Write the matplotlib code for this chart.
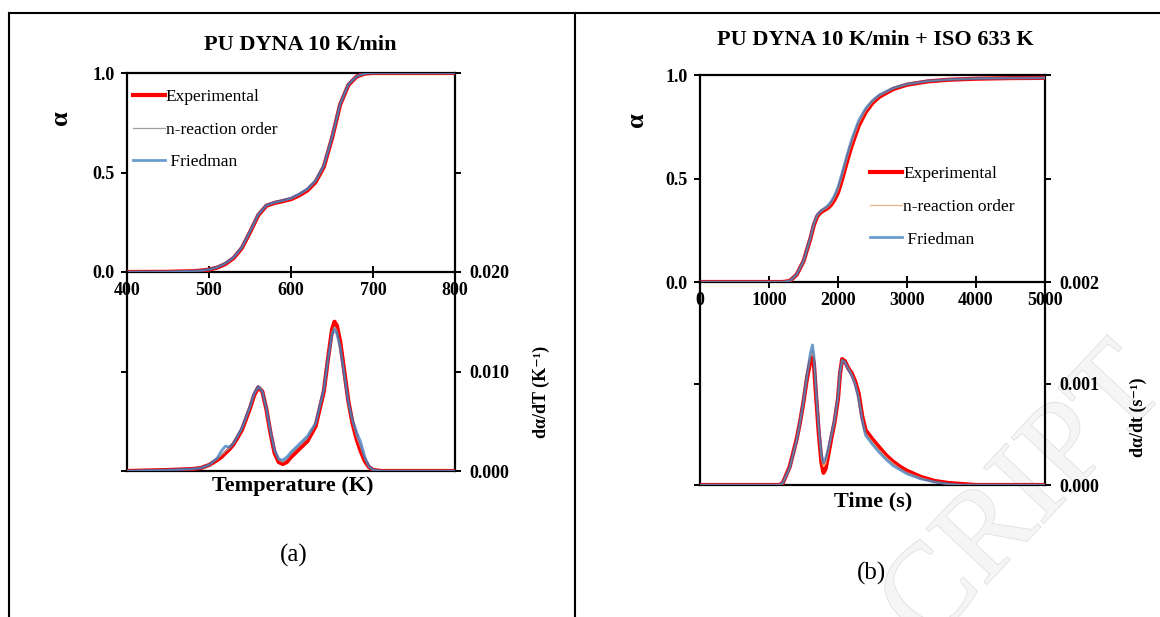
import matplotlib
matplotlib.use("Agg")
import matplotlib.pyplot as plt
import matplotlib.patheffects as pe
from matplotlib.lines import Line2D
from matplotlib.ticker import FormatStrFormatter

plt.rcParams.update({
    "font.family": ["Liberation Serif", "DejaVu Serif"],
    "font.weight": "bold",
    "axes.linewidth": 1.6,
    "xtick.major.width": 1.4,
    "ytick.major.width": 1.4,
    "xtick.labelsize": 13,
    "ytick.labelsize": 13,
})

W, H = 1160, 617
RED = "#ff0000"
BLUE = "#2e72b8"

# ---------- (a) PU DYNA 10 K/min ----------
temp_a = [400, 450, 480, 490, 500, 510, 520, 530, 540, 550, 560, 570, 580, 590,
          600, 610, 620, 630, 640, 650, 660, 670, 680, 690, 700, 750, 800]
alpha_exp_a = [0, 0.001, 0.004, 0.007, 0.012, 0.022, 0.040, 0.070, 0.120, 0.200,
               0.285, 0.333, 0.347, 0.356, 0.366, 0.385, 0.410, 0.452, 0.528,
               0.672, 0.842, 0.940, 0.982, 0.997, 1.0, 1.0, 1.0]
alpha_nro_a = [0, 0.001, 0.004, 0.007, 0.012, 0.023, 0.042, 0.072, 0.122, 0.202,
               0.287, 0.334, 0.348, 0.357, 0.368, 0.388, 0.414, 0.456, 0.532,
               0.676, 0.845, 0.942, 0.983, 0.997, 1.0, 1.0, 1.0]
alpha_fri_a = [0, 0.001, 0.004, 0.007, 0.013, 0.024, 0.044, 0.074, 0.124, 0.204,
               0.289, 0.336, 0.350, 0.360, 0.371, 0.392, 0.418, 0.460, 0.535,
               0.678, 0.846, 0.943, 0.983, 0.998, 1.0, 1.0, 1.0]

temp_d_a = [400, 450, 480, 490, 500, 510, 515, 520, 525, 530, 540, 550, 555, 560,
            565, 570, 575, 580, 585, 590, 595, 600, 610, 620, 630, 640, 645, 650,
            653, 656, 660, 665, 670, 675, 680, 685, 690, 695, 700, 710, 750, 800]
dadT_exp_a = [0, 0.0001, 0.0002, 0.0003, 0.0006, 0.0011, 0.0014, 0.0018, 0.0022,
              0.0027, 0.0041, 0.0063, 0.0076, 0.0084, 0.0080, 0.0062, 0.0038,
              0.0018, 0.0009, 0.0007, 0.0009, 0.0014, 0.0022, 0.0030, 0.0045,
              0.0080, 0.0112, 0.0142, 0.0150, 0.0146, 0.0130, 0.0100, 0.0070,
              0.0048, 0.0032, 0.0020, 0.0010, 0.0004, 0.0001, 0, 0, 0]
dadT_nro_a = [0, 0.0001, 0.0002, 0.0003, 0.0006, 0.0012, 0.0016, 0.0020, 0.0023,
              0.0028, 0.0042, 0.0064, 0.0077, 0.0084, 0.0080, 0.0062, 0.0039,
              0.0020, 0.0011, 0.0009, 0.0012, 0.0017, 0.0025, 0.0033, 0.0047,
              0.0081, 0.0112, 0.0139, 0.0145, 0.0141, 0.0126, 0.0098, 0.0069,
              0.0049, 0.0035, 0.0024, 0.0012, 0.0004, 0.0001, 0, 0, 0]
dadT_fri_a = [0, 0.0001, 0.0002, 0.0003, 0.0006, 0.0013, 0.0020, 0.0025, 0.0024,
              0.0028, 0.0043, 0.0065, 0.0078, 0.0085, 0.0080, 0.0063, 0.0040,
              0.0021, 0.0012, 0.0011, 0.0014, 0.0019, 0.0027, 0.0035, 0.0048,
              0.0082, 0.0112, 0.0137, 0.0142, 0.0138, 0.0124, 0.0097, 0.0069,
              0.0051, 0.0039, 0.0029, 0.0014, 0.0005, 0.0001, 0, 0, 0]

# ---------- (b) PU DYNA 10 K/min + ISO 633 K ----------
time_a_b = [0, 1000, 1200, 1300, 1400, 1500, 1600, 1650, 1700, 1750, 1800, 1850,
            1900, 1950, 2000, 2050, 2100, 2150, 2200, 2300, 2400, 2500, 2600,
            2800, 3000, 3300, 3600, 4000, 4500, 5000]
alpha_exp_b = [0, 0, 0, 0.005, 0.035, 0.10, 0.21, 0.275, 0.318, 0.337, 0.347,
               0.357, 0.373, 0.398, 0.432, 0.485, 0.545, 0.605, 0.66, 0.755, 0.82,
               0.865, 0.895, 0.932, 0.953, 0.969, 0.977, 0.982, 0.985, 0.986]
alpha_nro_b = [0, 0, 0, 0.005, 0.035, 0.101, 0.212, 0.279, 0.321, 0.340, 0.351,
               0.362, 0.380, 0.408, 0.445, 0.500, 0.560, 0.620, 0.675, 0.768,
               0.829, 0.871, 0.900, 0.935, 0.955, 0.970, 0.978, 0.983, 0.985, 0.986]
alpha_fri_b = [0, 0, 0, 0.005, 0.036, 0.102, 0.215, 0.283, 0.325, 0.343, 0.355,
               0.368, 0.388, 0.418, 0.458, 0.515, 0.575, 0.635, 0.69, 0.78, 0.838,
               0.877, 0.904, 0.937, 0.956, 0.971, 0.978, 0.983, 0.985, 0.986]

time_d_b = [0, 500, 1000, 1150, 1200, 1300, 1400, 1450, 1500, 1550, 1600, 1630,
            1650, 1680, 1720, 1760, 1790, 1820, 1860, 1900, 1950, 2000, 2030, 2060,
            2100, 2150, 2200, 2250, 2300, 2350, 2400, 2500, 2600, 2700, 2800, 2900,
            3000, 3200, 3400, 3600, 3800, 4000, 4500, 5000]
dadt_exp_b = [0, 0, 0, 0, 0.00002, 0.00018, 0.00045, 0.00062, 0.00082, 0.00105,
              0.00122, 0.00126, 0.00120, 0.00090, 0.00052, 0.00022, 0.00012,
              0.00016, 0.00030, 0.00045, 0.00062, 0.00085, 0.00110, 0.00124,
              0.00122, 0.00115, 0.00110, 0.00102, 0.00090, 0.00068, 0.00054,
              0.00045, 0.00037, 0.00029, 0.00023, 0.00018, 0.00014, 0.00008,
              0.00004, 0.00002, 0.00001, 0, 0, 0]
dadt_nro_b = [0, 0, 0, 0, 0.00002, 0.00017, 0.00044, 0.00062, 0.00082, 0.00106,
              0.00126, 0.00132, 0.00124, 0.00093, 0.00055, 0.00026, 0.00018,
              0.00021, 0.00033, 0.00047, 0.00063, 0.00086, 0.00111, 0.00123,
              0.00121, 0.00115, 0.00109, 0.00100, 0.00087, 0.00066, 0.00051,
              0.00042, 0.00034, 0.00027, 0.00021, 0.00016, 0.00012, 0.00007,
              0.00003, 0.00001, 0, 0, 0, 0]
dadt_fri_b = [0, 0, 0, 0, 0.00002, 0.00017, 0.00044, 0.00062, 0.00083, 0.00108,
              0.00130, 0.00138, 0.00128, 0.00096, 0.00058, 0.00030, 0.00022,
              0.00026, 0.00036, 0.00048, 0.00064, 0.00088, 0.00112, 0.00123,
              0.00121, 0.00114, 0.00108, 0.00099, 0.00085, 0.00064, 0.00049,
              0.00040, 0.00032, 0.00025, 0.00019, 0.00015, 0.00011, 0.00006,
              0.00003, 0.00001, 0, 0, 0, 0]

series_names = ["Experimental", "n-reaction order", " Friedman"]


def rect(l, t, r, b):
    return [l / W, 1 - b / H, (r - l) / W, (b - t) / H]


def ftext(x, y, s, **kw):
    fig.text(x / W, 1 - y / H, s, ha="center", va="center", **kw)


def panel(box_top, box_bot, x_a, alphas, x_d, derivs, xlim, xticks,
          dlim, dticks, dfmt, nro_color, leg_anchor):
    styles = [dict(color=RED, lw=3.0, zorder=3),
              dict(color=nro_color, lw=0.9, zorder=4),
              dict(color=BLUE, lw=2.0, alpha=0.7, zorder=5)]

    ax_t = fig.add_axes(rect(*box_top))
    for ys, st, name in zip(alphas, styles, series_names):
        ax_t.plot(x_a, ys, label=name, **st)
    ax_t.set_xlim(*xlim)
    ax_t.set_ylim(0, 1)
    ax_t.set_xticks(xticks)
    ax_t.set_yticks([0, 0.5, 1.0])
    ax_t.yaxis.set_major_formatter(FormatStrFormatter("%.1f"))
    ax_t.tick_params(axis="x", direction="inout", length=9, pad=3)
    ax_t.tick_params(axis="y", direction="out", length=4, pad=5,
                     right=True, labelright=False)
    ax_t.patch.set_alpha(0)

    ax_t.legend(loc="upper left", bbox_to_anchor=leg_anchor,
                frameon=False, handlelength=1.85, handletextpad=0.05,
                labelspacing=0.95, borderaxespad=0, borderpad=0,
                prop={"weight": "normal", "size": 12.5})

    ax_b = fig.add_axes(rect(*box_bot))
    for ys, st in zip(derivs, styles):
        ax_b.plot(x_d, ys, **st)
    ax_b.set_xlim(*xlim)
    ax_b.set_ylim(*dlim)
    ax_b.set_xticks([])
    ax_b.set_yticks(dticks)
    ax_b.yaxis.set_major_formatter(FormatStrFormatter(dfmt))
    ax_b.tick_params(axis="y", direction="out", length=4, pad=6,
                     left=True, right=True, labelleft=False, labelright=True)
    ax_b.spines["top"].set_visible(False)
    ax_b.patch.set_alpha(0)
    return ax_t, ax_b


fig = plt.figure(figsize=(W / 100, H / 100), dpi=100)

# table-like frame around the two sub-figures
for xs, ys in [((9, W), (13, 13)), ((9, 9), (13, H)), ((575, 575), (13, H))]:
    fig.add_artist(Line2D([x / W for x in xs], [1 - y / H for y in ys],
                          color="black", lw=1.5))

panel((127, 73, 455, 272), (127, 272, 455, 471),
      temp_a, [alpha_exp_a, alpha_nro_a, alpha_fri_a],
      temp_d_a, [dadT_exp_a, dadT_nro_a, dadT_fri_a],
      (400, 800), [400, 500, 600, 700, 800],
      (0, 0.02), [0, 0.01, 0.02], "%.3f", "#a0a0a0", (0.018, 0.92))

panel((700, 75, 1045, 282), (700, 282, 1045, 485),
      time_a_b, [alpha_exp_b, alpha_nro_b, alpha_fri_b],
      time_d_b, [dadt_exp_b, dadt_nro_b, dadt_fri_b],
      (0, 5000), [0, 1000, 2000, 3000, 4000, 5000],
      (0, 0.002), [0, 0.001, 0.002], "%.3f", "#efb27c", (0.493, 0.56))

# titles and labels
ftext(300, 45, "PU DYNA 10 K/min", fontsize=16)
ftext(875, 40, "PU DYNA 10 K/min + ISO 633 K", fontsize=16)
ftext(60, 118, "α", fontsize=19, rotation=90)
ftext(636, 120, "α", fontsize=19, rotation=90)
ftext(293, 486, "Temperature (K)", fontsize=16)
ftext(873, 501, "Time (s)", fontsize=16)
ftext(541, 392, "dα/dT (K⁻¹)", fontsize=13, rotation=90)
ftext(1138, 417, "dα/dt (s⁻¹)", fontsize=13, rotation=90)
ftext(294, 555, "(a)", fontsize=18, fontweight="normal")
ftext(872, 573, "(b)", fontsize=18, fontweight="normal")

# faint watermark in the lower right corner, behind everything
wm = fig.text(905 / W, 1 - 628 / H, "CRIPT", fontsize=90, fontweight="normal",
              color="#f5f5f5", rotation=47, rotation_mode="anchor",
              ha="left", va="center", zorder=-1)
wm.set_path_effects([pe.withStroke(linewidth=1.0, foreground="#dcdcdc")])

fig.savefig("out.png", dpi=100, facecolor="white")
